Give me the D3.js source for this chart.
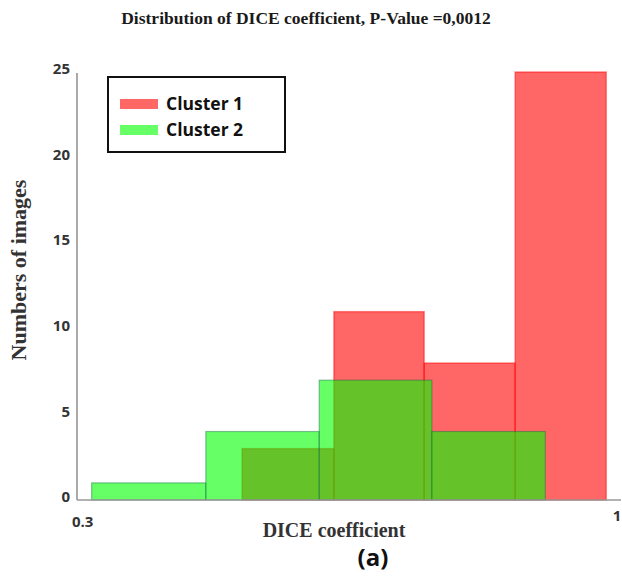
<!DOCTYPE html>
<html>
<head>
<meta charset="utf-8">
<script src="https://cdn.jsdelivr.net/npm/d3@7"></script>
<style>
  body { margin: 0; background: #fff; }
</style>
</head>
<body>
<div id="chart"></div>
<script>
// histogram bins
const cluster1Edges = [0.514, 0.633, 0.750, 0.868, 0.986];
const cluster1Counts = [3, 11, 8, 25];
const cluster2Edges = [0.319, 0.467, 0.614, 0.760, 0.907];
const cluster2Counts = [1, 4, 7, 4];
const yTicks = [0, 5, 10, 15, 20, 25];
const xTicks = [0.3, 1];
const xTickLabels = ["0.3", "1"];
const seriesNames = ["Cluster 1", "Cluster 2"];

const width = 622;
const height = 579;

const svg = d3.select("#chart").append("svg")
  .attr("width", width)
  .attr("height", height);

const x = d3.scaleLinear().domain([0.3, 1]).range([77, 617]);
const y = d3.scaleLinear().domain([0, 25]).range([500, 72]);

const toBins = (edges, counts) =>
  counts.map((c, i) => ({ x0: edges[i], x1: edges[i + 1], value: c }));

const bins1 = toBins(cluster1Edges, cluster1Counts);
const bins2 = toBins(cluster2Edges, cluster2Counts);

// title
svg.append("text")
  .attr("x", 306)
  .attr("y", 24)
  .attr("text-anchor", "middle")
  .style("font-family", "'Liberation Serif', serif")
  .style("font-weight", "bold")
  .style("font-size", "17.5px")
  .style("fill", "#1a1a1a")
  .text("Distribution of DICE coefficient, P-Value =0,0012");

// bars, red under green
svg.append("g").selectAll("rect")
  .data(bins1)
  .enter()
  .append("rect")
  .attr("x", (d) => x(d.x0))
  .attr("y", (d) => y(d.value))
  .attr("width", (d) => x(d.x1) - x(d.x0))
  .attr("height", (d) => y(0) - y(d.value))
  .attr("fill", "rgba(255,0,0,0.6)")
  .attr("stroke", "rgba(255,0,0,0.45)")
  .attr("stroke-width", 1.5);

svg.append("g").selectAll("rect")
  .data(bins2)
  .enter()
  .append("rect")
  .attr("x", (d) => x(d.x0))
  .attr("y", (d) => y(d.value))
  .attr("width", (d) => x(d.x1) - x(d.x0))
  .attr("height", (d) => y(0) - y(d.value))
  .attr("fill", "rgba(0,255,0,0.6)")
  .attr("stroke", "rgba(20,110,70,0.45)")
  .attr("stroke-width", 1.2);

// axes lines
svg.append("line")
  .attr("x1", x(0.3)).attr("x2", x(0.3))
  .attr("y1", y(25) + 1).attr("y2", y(0))
  .attr("stroke", "#aaa")
  .attr("stroke-width", 2);

svg.append("line")
  .attr("x1", x(0.3)).attr("x2", x(1) + 4)
  .attr("y1", y(0)).attr("y2", y(0))
  .attr("stroke", "#999")
  .attr("stroke-width", 1.5);

// y tick labels
svg.append("g").selectAll("text")
  .data(yTicks)
  .enter()
  .append("text")
  .attr("x", 70)
  .attr("y", (d) => y(d) - 3)
  .attr("dy", "0.35em")
  .attr("text-anchor", "end")
  .style("font-family", "'Open Sans', sans-serif")
  .style("font-weight", "bold")
  .style("font-size", "15px")
  .style("fill", "#333")
  .text((d) => d);

// x tick labels
svg.append("g").selectAll("text")
  .data(xTicks)
  .enter()
  .append("text")
  .attr("x", (d, i) => (i === 0 ? x(d) - 5 : x(d)))
  .attr("y", (d, i) => (i === 0 ? 527 : 521))
  .attr("text-anchor", (d, i) => (i === 0 ? "start" : "middle"))
  .style("font-family", "'Open Sans', sans-serif")
  .style("font-weight", "bold")
  .style("font-size", "15px")
  .style("fill", "#333")
  .text((d, i) => xTickLabels[i]);

// axis titles
svg.append("text")
  .attr("x", 334)
  .attr("y", 537)
  .attr("text-anchor", "middle")
  .style("font-family", "'Liberation Serif', serif")
  .style("font-weight", "bold")
  .style("font-size", "20px")
  .style("fill", "#333")
  .text("DICE coefficient");

svg.append("text")
  .attr("transform", "translate(26,270) rotate(-90)")
  .attr("text-anchor", "middle")
  .style("font-family", "'Liberation Serif', serif")
  .style("font-weight", "bold")
  .style("font-size", "22px")
  .style("fill", "#333")
  .text("Numbers of images");

svg.append("text")
  .attr("x", 373)
  .attr("y", 566)
  .attr("text-anchor", "middle")
  .style("font-family", "'Open Sans', sans-serif")
  .style("font-weight", "bold")
  .style("font-size", "24px")
  .style("fill", "#111")
  .text("(a)");

// legend
const legend = svg.append("g");
legend.append("rect")
  .attr("x", 108).attr("y", 77)
  .attr("width", 177).attr("height", 75)
  .attr("fill", "#fff")
  .attr("stroke", "#111")
  .attr("stroke-width", 2);

const legendColors = ["rgba(255,0,0,0.6)", "rgba(0,255,0,0.6)"];
seriesNames.forEach((name, i) => {
  legend.append("rect")
    .attr("x", 120).attr("y", 99 + i * 26)
    .attr("width", 38).attr("height", 10)
    .attr("fill", legendColors[i]);
  legend.append("text")
    .attr("x", 166).attr("y", 110 + i * 26)
    .style("font-family", "'Open Sans', sans-serif")
    .style("font-weight", "bold")
    .style("font-size", "17.5px")
    .style("fill", "#111")
    .text(name);
});
</script>
</body>
</html>
